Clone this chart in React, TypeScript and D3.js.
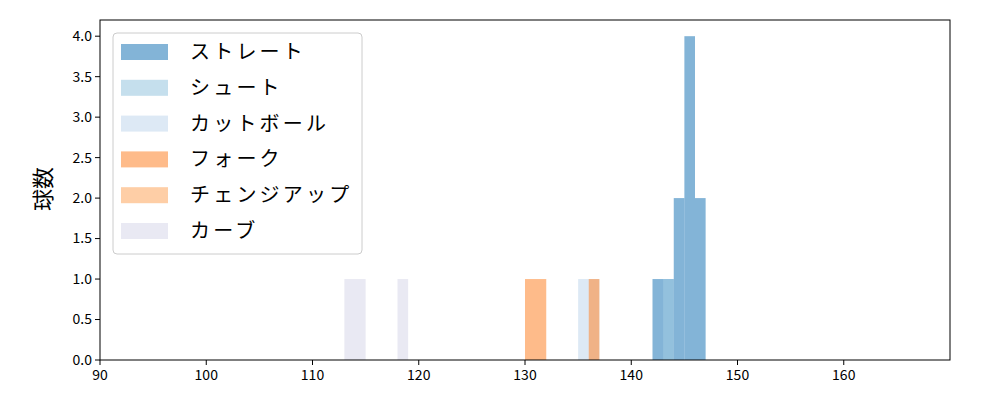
import React from 'react';
import * as d3 from 'd3';

// pitch types, in drawing order
const pitchTypes = ['ストレート', 'シュート', 'カットボール', 'フォーク', 'チェンジアップ', 'カーブ'];
const pitchColors = ['#3182bd', '#9ecae1', '#c6dbef', '#fd8d3c', '#fdae6b', '#dadaeb'];

// histogram bins per pitch type: [from km/h, to km/h, count]
const straightBins = [[142, 144, 1], [144, 145, 2], [145, 146, 4], [146, 147, 2]];
const shootBins = [[143, 144, 1]];
const cutBins = [[135, 137, 1]];
const forkBins = [[130, 132, 1], [136, 137, 1]];
const changeupBins: number[][] = [];
const curveBins = [[113, 115, 1], [118, 119, 1]];

const xTicks = [90, 100, 110, 120, 130, 140, 150, 160];
const yTicks = [0, 0.5, 1, 1.5, 2, 2.5, 3, 3.5, 4];

const width = 1000;
const height = 400;
const margin = { top: 20, right: 50, bottom: 40, left: 100 };
const font = '"Noto Sans CJK JP", "Noto Sans", sans-serif';

const App = () => {
  const series = [straightBins, shootBins, cutBins, forkBins, changeupBins, curveBins];

  const x = d3.scaleLinear().domain([90, 170]).range([margin.left, width - margin.right]);
  const y = d3.scaleLinear().domain([0, 4.2]).range([height - margin.bottom, margin.top]);

  const legendX = 113;
  const legendY = 33;
  const rowH = 35.8;

  return (
    <svg width={width} height={height} style={{ position: 'absolute', left: 0, top: 0, fontFamily: font }}>
      <rect width={width} height={height} fill="#fff" />

      {/* bars */}
      {series.map((bins, i) =>
        bins.map((b, j) => (
          <rect
            key={`${i}-${j}`}
            x={x(b[0])}
            y={y(b[2])}
            width={x(b[1]) - x(b[0])}
            height={y(0) - y(b[2])}
            fill={pitchColors[i]}
            fillOpacity={0.6}
          />
        ))
      )}

      {/* frame */}
      <rect
        x={margin.left}
        y={margin.top}
        width={width - margin.left - margin.right}
        height={height - margin.top - margin.bottom}
        fill="none"
        stroke="#000"
        strokeWidth={1}
      />

      {/* x axis */}
      {xTicks.map((t) => (
        <g key={t} transform={`translate(${x(t)},${y(0)})`}>
          <line y2={5} stroke="#000" />
          <text y={20} textAnchor="middle" fontSize={14} fill="#000">{t}</text>
        </g>
      ))}

      {/* y axis */}
      {yTicks.map((t) => (
        <g key={t} transform={`translate(${margin.left},${y(t)})`}>
          <line x2={-5} stroke="#000" />
          <text x={-8} dy="0.35em" textAnchor="end" fontSize={14} fill="#000">{t.toFixed(1)}</text>
        </g>
      ))}
      <text
        transform="translate(43,189) rotate(-90)"
        textAnchor="middle"
        dy="0.35em"
        fontSize={22}
        fill="#000"
      >
        球数
      </text>

      {/* legend */}
      <rect x={legendX} y={legendY} width={249} height={221} rx={4} fill="#fff" fillOpacity={0.8} stroke="#ccc" />
      {pitchTypes.map((name, i) => (
        <g key={name} transform={`translate(${legendX + 8},${legendY + 19 + i * rowH})`}>
          <rect x={0} y={-8} width={47} height={16} fill={pitchColors[i]} fillOpacity={0.6} />
          <text x={69} dy="0.35em" fontSize={20} letterSpacing={3.2} fill="#000">{name}</text>
        </g>
      ))}
    </svg>
  );
};

export default App;
